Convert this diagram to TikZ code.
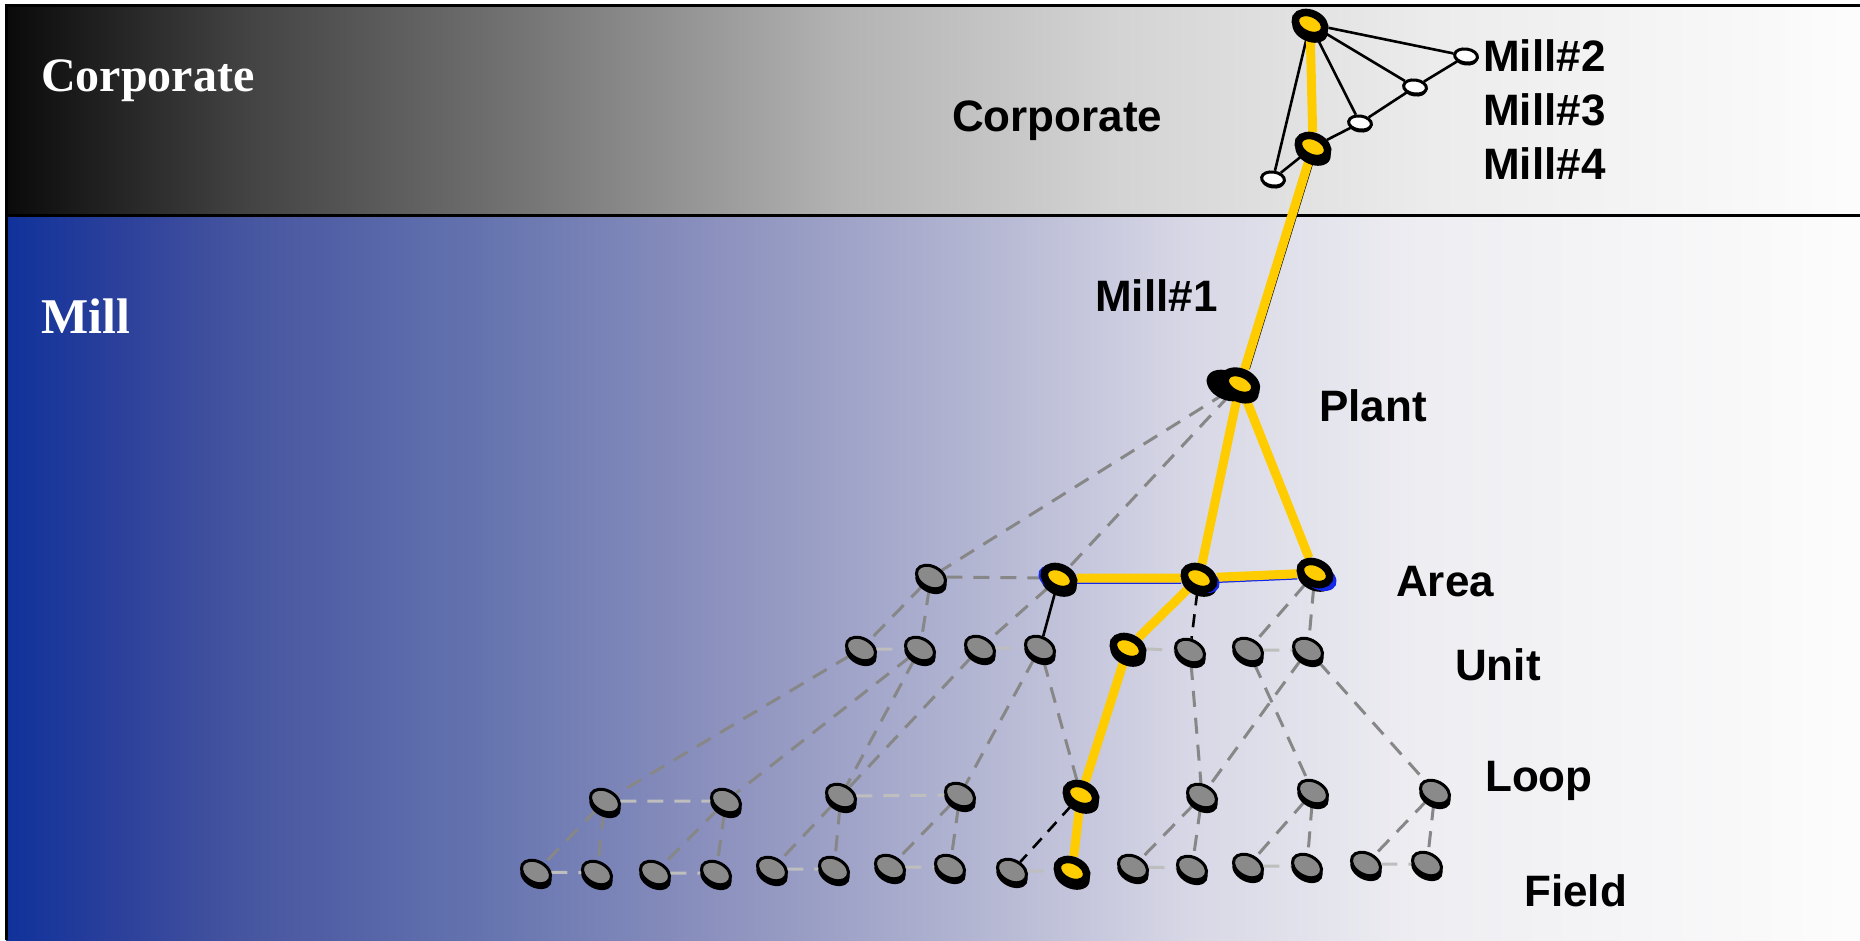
\documentclass[tikz,border=0pt]{standalone}
\usepackage{fontspec}
\setmainfont{Liberation Serif}
\setsansfont{Liberation Sans}
\usetikzlibrary{shapes,shadows,backgrounds}
\definecolor{gold}{RGB}{255,204,0}
\definecolor{discgrey}{RGB}{138,138,138}
\definecolor{linkgrey}{RGB}{135,135,135}
\definecolor{palegrey}{RGB}{190,190,190}
\definecolor{shadowblue}{RGB}{20,40,235}
\pgfdeclarehorizontalshading{CorpShade}{100bp}{gray(0bp)=(0.04); gray(25bp)=(0.04); gray(31.5bp)=(0.263); gray(38bp)=(0.43); gray(47.5bp)=(0.70); gray(55bp)=(0.83); gray(63.5bp)=(0.925); gray(75bp)=(0.99); gray(100bp)=(0.99)}
\pgfdeclarehorizontalshading{MillShade}{100bp}{rgb(0bp)=(0.063,0.196,0.608); rgb(25bp)=(0.063,0.196,0.608); rgb(28.2bp)=(0.176,0.255,0.608); rgb(31.35bp)=(0.275,0.333,0.627); rgb(37.75bp)=(0.392,0.451,0.686); rgb(44.15bp)=(0.549,0.569,0.745); rgb(50.5bp)=(0.686,0.698,0.816); rgb(56.9bp)=(0.843,0.843,0.902); rgb(63.25bp)=(0.933,0.933,0.949); rgb(75bp)=(0.99,0.99,0.99); rgb(100bp)=(0.99,0.99,0.99)}
\tikzset{
    GreyDisc/.style={ellipse, draw, line width=3pt, fill=discgrey, minimum width=31pt, minimum height=21pt, inner sep=0pt, rotate=-28, general shadow={fill=black, shadow yshift=-4pt, shadow scale=1.08}},
    GoldDisc/.style={ellipse, draw, line width=7.5pt, fill=gold, minimum width=31pt, minimum height=21pt, inner sep=0pt, rotate=-25, general shadow={fill=black, shadow yshift=-4pt, shadow scale=1.2}},
    PlantDisc/.style={GoldDisc, minimum width=33pt, minimum height=22pt, line width=9pt, general shadow={fill=black, shadow xshift=-10pt, shadow yshift=-1pt, shadow scale=1.3}},
    WhiteDisc/.style={ellipse, draw, line width=3pt, fill=white, minimum width=23pt, minimum height=14pt, inner sep=0pt, rotate=-8, general shadow={fill=black, shadow yshift=-2.5pt}},
    Link/.style={draw=linkgrey, line width=3pt, dash pattern=on 16pt off 11pt},
    PaleLink/.style={draw=palegrey, line width=3pt, dash pattern=on 16pt off 11pt},
    CorpLink/.style={draw=black, line width=2.6pt},
    GoldPath/.style={draw=gold, line width=9pt},
    Level/.style={font=\sffamily\bfseries\fontsize{44}{50}\selectfont, anchor=base west, inner sep=0pt},
    Band/.style={font=\rmfamily\bfseries\fontsize{48}{56}\selectfont, text=white, anchor=base west, inner sep=0pt}
    }
\begin{document}
\begin{tikzpicture}[x=1pt,y=-1pt]
\useasboundingbox (0,0) rectangle (1860,940);

\begin{scope}[on background layer]
\shade[shading=CorpShade] (6,5) rectangle (1860,215);
\shade[shading=MillShade] (6,215) rectangle (1860,940);
\draw[line width=3pt] (4.5,5) -- (1860,5);
\draw[line width=3pt] (6,215) -- (1860,215);
\draw[line width=3pt] (6,5) -- (6,940);
\end{scope}

% corporate level
\node[GoldDisc] (Corp) at (1310,24) {};
\node[WhiteDisc] (CorpM2) at (1466,56) {};
\node[WhiteDisc] (CorpM3) at (1415,87) {};
\node[WhiteDisc] (CorpM4) at (1360,123) {};
\node[GoldDisc] (CorpM1) at (1313,147) {};
\node[WhiteDisc] (CorpX) at (1273,179) {};

\node[PlantDisc] (Plant) at (1240,384) {};

\node[GreyDisc] (Area0) at (931,577) {};
\node[GoldDisc, general shadow={fill=shadowblue, shadow xshift=-4pt, shadow scale=1.1}] (Area1) at (1059,578) {};
\node[GoldDisc, general shadow={fill=shadowblue, shadow xshift=4pt, shadow yshift=-2pt, shadow scale=1.1}] (Area2) at (1199,578) {};
\node[GoldDisc, general shadow={fill=shadowblue, shadow xshift=4pt, shadow yshift=-4pt, shadow scale=1.15}] (Area3) at (1315,573) {};

\node[GreyDisc] (Unit0) at (861,649) {};
\node[GreyDisc] (Unit1) at (920,649) {};
\node[GreyDisc] (Unit2) at (980,648) {};
\node[GreyDisc] (Unit3) at (1040,648) {};
\node[GoldDisc] (Unit4) at (1128,648) {};
\node[GreyDisc] (Unit5) at (1190,651) {};
\node[GreyDisc] (Unit6) at (1248,650) {};
\node[GreyDisc] (Unit7) at (1308,650) {};

\node[GreyDisc] (Loop0) at (605,801) {};
\node[GreyDisc] (Loop1) at (726,801) {};
\node[GreyDisc] (Loop2) at (841,796) {};
\node[GreyDisc] (Loop3) at (960,795) {};
\node[GoldDisc] (Loop4) at (1081,795) {};
\node[GreyDisc] (Loop5) at (1202,796) {};
\node[GreyDisc] (Loop6) at (1313,792) {};
\node[GreyDisc] (Loop7) at (1435,792) {};

\node[GreyDisc] (Field0) at (536,872) {};
\node[GreyDisc] (Field1) at (597,873) {};
\node[GreyDisc] (Field2) at (655,873) {};
\node[GreyDisc] (Field3) at (716,873) {};
\node[GreyDisc] (Field4) at (772,869) {};
\node[GreyDisc] (Field5) at (834,869) {};
\node[GreyDisc] (Field6) at (890,867) {};
\node[GreyDisc] (Field7) at (950,867) {};
\node[GreyDisc] (Field8) at (1012,871) {};
\node[GoldDisc] (Field9) at (1072,871) {};
\node[GreyDisc] (Field10) at (1133,867) {};
\node[GreyDisc] (Field11) at (1192,868) {};
\node[GreyDisc] (Field12) at (1248,866) {};
\node[GreyDisc] (Field13) at (1307,866) {};
\node[GreyDisc] (Field14) at (1366,864) {};
\node[GreyDisc] (Field15) at (1427,864) {};

\begin{scope}[on background layer]
\draw[CorpLink] (Corp) -- (CorpM2);
\draw[CorpLink] (Corp) -- (CorpM3);
\draw[CorpLink] (Corp) -- (CorpM4);
\draw[CorpLink] (Corp) -- (CorpX);
\draw[CorpLink] (CorpX) -- (CorpM1) -- (CorpM4) -- (CorpM3) -- (CorpM2);

\draw[Link] (Plant) -- (Area0);
\draw[Link] (Plant) -- (Area1);
\draw[Link] (Area0) -- (Area1);
\draw[Link] (Area0) -- (Unit0);
\draw[Link] (Area0) -- (Unit1);
\draw[Link] (Area1) -- (Unit2);
\draw[Link] (Area3) -- (Unit6);
\draw[Link] (Area3) -- (Unit7);

\draw[Link] (Unit0) -- (Loop0);
\draw[Link] (Unit1) -- (Loop1);
\draw[Link] (Unit1) -- (Loop2);
\draw[Link] (Unit2) -- (Loop2);
\draw[Link] (Unit3) -- (Loop3);
\draw[Link] (Unit3) -- (Loop4);
\draw[Link] (Unit5) -- (Loop5);
\draw[Link] (Unit6) -- (Loop6);
\draw[Link] (Unit7) -- (Loop5);
\draw[Link] (Unit7) -- (Loop7);

\draw[Link] (Loop0) -- (Field0);
\draw[Link] (Loop0) -- (Field1);
\draw[Link] (Loop1) -- (Field2);
\draw[Link] (Loop1) -- (Field3);
\draw[Link] (Loop2) -- (Field4);
\draw[Link] (Loop2) -- (Field5);
\draw[Link] (Loop3) -- (Field6);
\draw[Link] (Loop3) -- (Field7);
\draw[Link] (Loop5) -- (Field10);
\draw[Link] (Loop5) -- (Field11);
\draw[Link] (Loop6) -- (Field12);
\draw[Link] (Loop6) -- (Field13);
\draw[Link] (Loop7) -- (Field14);
\draw[Link] (Loop7) -- (Field15);

\draw[PaleLink] (Unit0) -- (Unit1);
\draw[PaleLink] (Unit2) -- (Unit3);
\draw[PaleLink] (Unit4) -- (Unit5);
\draw[PaleLink] (Unit6) -- (Unit7);
\draw[PaleLink] (Loop0) -- (Loop1);
\draw[PaleLink] (Loop2) -- (Loop3);
\draw[PaleLink] (Field0) -- (Field1);
\draw[PaleLink] (Field2) -- (Field3);
\draw[PaleLink] (Field4) -- (Field5);
\draw[PaleLink] (Field6) -- (Field7);
\draw[PaleLink] (Field8) -- (Field9);
\draw[PaleLink] (Field10) -- (Field11);
\draw[PaleLink] (Field12) -- (Field13);
\draw[PaleLink] (Field14) -- (Field15);

\draw[CorpLink] (Area1) -- (Unit3);
\draw[CorpLink, dash pattern=on 13pt off 9pt] (Area2) -- (Unit5);
\draw[CorpLink, dash pattern=on 13pt off 9pt] (Loop4) -- (Field8);

% the active path
\draw[line width=1.5pt, transform canvas={xshift=4.5pt}] (CorpM1) -- (Plant);
\draw[shadowblue, line width=1.5pt, transform canvas={yshift=-5pt}] (Area1) -- (Area2) -- (Area3);
\draw[GoldPath] (Corp) -- (CorpM1) -- (Plant);
\draw[GoldPath] (Plant) -- (Area2);
\draw[GoldPath] (Plant) -- (Area3);
\draw[GoldPath] (Area1) -- (Area2) -- (Area3);
\draw[GoldPath] (Area2) -- (Unit4) -- (Loop4) -- (Field9);
\end{scope}

\node[Band] (CorpBand) at (41,91) {Corporate};
\node[Band, font=\rmfamily\bfseries\fontsize{50}{56}\selectfont] (MillBand) at (41,333) {Mill};

\node[Level] (CorpName) at (952,131) {Corporate};
\node[Level] (Mill2Name) at (1483,71) {Mill\#2};
\node[Level] (Mill3Name) at (1483,125) {Mill\#3};
\node[Level] (Mill4Name) at (1483,179) {Mill\#4};
\node[Level] (Mill1Name) at (1095,311) {Mill\#1};
\node[Level] (PlantName) at (1319,421) {Plant};
\node[Level] (AreaName) at (1396,596) {Area};
\node[Level] (UnitName) at (1455,680) {Unit};
\node[Level] (LoopName) at (1485,791) {Loop};
\node[Level] (FieldName) at (1524,906) {Field};

\end{tikzpicture}
\end{document}
